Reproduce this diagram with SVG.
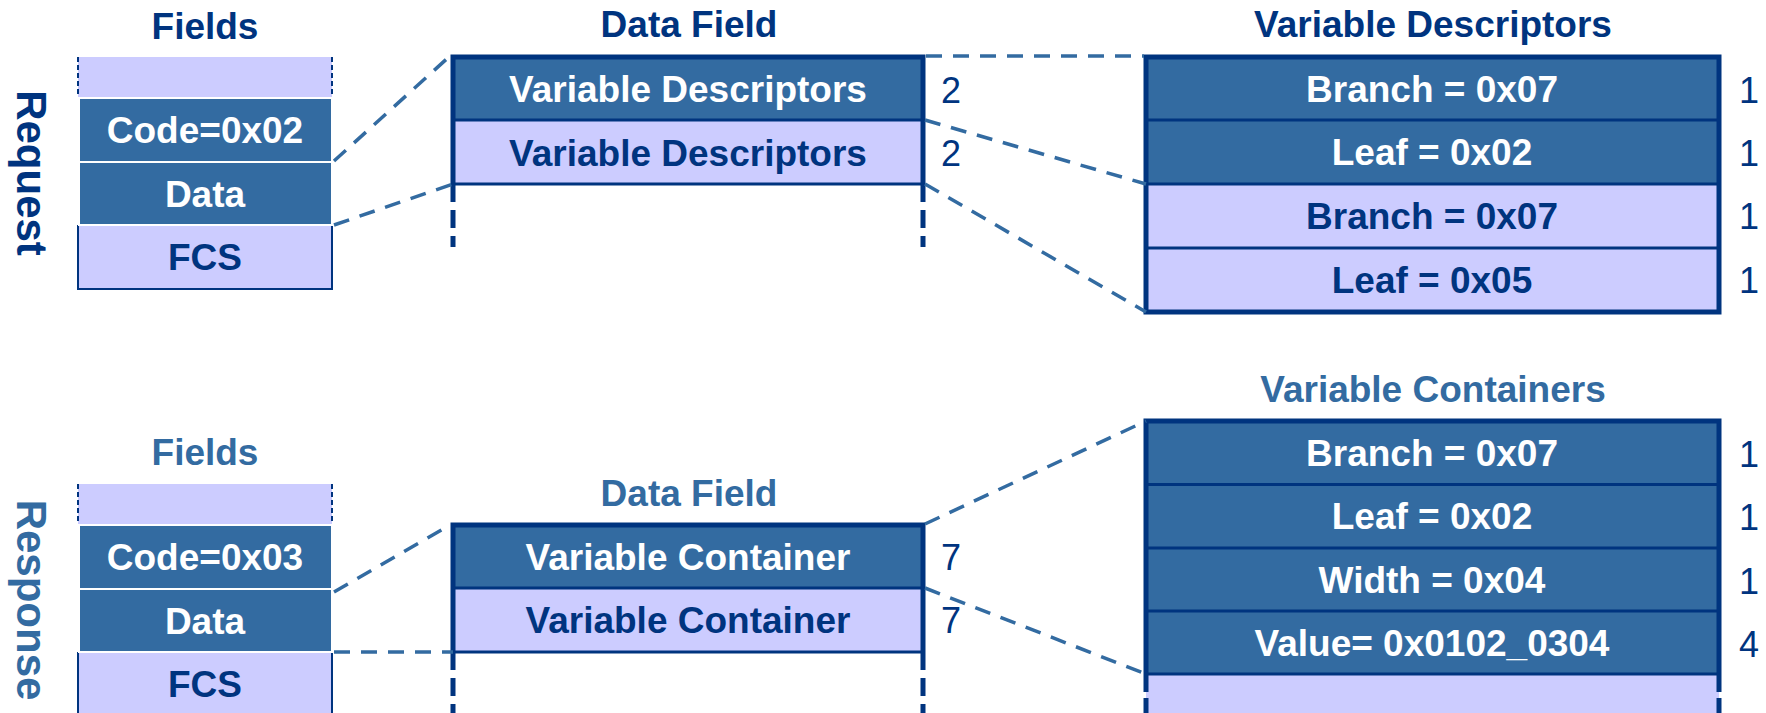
<svg xmlns="http://www.w3.org/2000/svg" width="1766" height="713" viewBox="0 0 1766 713">
  <style>
    text { font-family: "Liberation Sans", Arial, sans-serif; }
    .title { font-size: 37px; font-weight: bold; text-anchor: middle; }
    .cell { font-size: 37px; font-weight: bold; text-anchor: middle; }
    .num { font-size: 36px; fill: #00347F; }
    .vlabel { font-size: 42px; font-weight: bold; text-anchor: middle; }
    .navy { fill: #00347F; }
    .soft { fill: #336BA1; }
    .white { fill: #FFFFFF; }
    .dark { fill: #336BA1; }
    .light { fill: #CCCCFF; }
    .wrow { fill: #336BA1; stroke: #FFFFFF; stroke-width: 2; }
    .conn { fill: none; stroke: #336BA1; stroke-width: 3.5; stroke-dasharray: 16 11; }
    .frame { fill: none; stroke: #00347F; stroke-width: 5; }
    .edge { fill: none; stroke: #00347F; stroke-width: 2; }
    .sep { stroke: #00347F; stroke-width: 3; }
    .tail { stroke: #00347F; stroke-width: 5; stroke-dasharray: 18 8; }
    .tick { stroke: #00347F; stroke-width: 2; stroke-dasharray: 5 3; }
  </style>

  <!-- side labels -->
  <text class="vlabel navy" x="17" y="173" transform="rotate(90 17 173)">Request</text>
  <text class="vlabel soft" x="17" y="600" transform="rotate(90 17 600)">Response</text>

  <!-- request: frame fields -->
  <g id="req-fields">
    <text class="title navy" x="205" y="39">Fields</text>
    <rect class="light" x="78" y="57" width="254" height="41"/>
    <line class="tick" x1="78" y1="57" x2="78" y2="97"/>
    <line class="tick" x1="332" y1="57" x2="332" y2="97"/>
    <rect class="light" x="78" y="225" width="254" height="64"/>
    <path class="edge" d="M78 225 V289 H332 V225"/>
    <rect class="wrow" x="79" y="98" width="253" height="64"/>
    <rect class="wrow" x="79" y="162" width="253" height="63"/>
    <text class="cell white" x="205" y="143">Code=0x02</text>
    <text class="cell white" x="205" y="207">Data</text>
    <text class="cell navy" x="205" y="270">FCS</text>
  </g>

  <!-- request: data field -->
  <g id="req-datafield">
    <text class="title navy" x="689" y="37">Data Field</text>
    <rect class="dark" x="453" y="57" width="470" height="63"/>
    <rect class="light" x="453" y="120" width="470" height="64"/>
    <line class="sep" x1="453" y1="120" x2="923" y2="120"/>
    <line class="sep" x1="451" y1="184" x2="925" y2="184"/>
    <path class="frame" d="M453 184 V57 H923 V184"/>
    <line class="tail" x1="453" y1="184" x2="453" y2="247"/>
    <line class="tail" x1="923" y1="184" x2="923" y2="247"/>
    <text class="cell white" x="688" y="102">Variable Descriptors</text>
    <text class="cell navy" x="688" y="166">Variable Descriptors</text>
    <text class="num" x="941" y="103">2</text>
    <text class="num" x="941" y="166">2</text>
  </g>

  <!-- request: variable descriptors -->
  <g id="req-descriptors">
    <text class="title navy" x="1433" y="37">Variable Descriptors</text>
    <rect class="dark" x="1146" y="57" width="573" height="127"/>
    <rect class="light" x="1146" y="184" width="573" height="128"/>
    <line class="sep" x1="1146" y1="120" x2="1719" y2="120"/>
    <line class="sep" x1="1146" y1="184" x2="1719" y2="184"/>
    <line class="sep" x1="1146" y1="248" x2="1719" y2="248"/>
    <rect class="frame" x="1146" y="57" width="573" height="255"/>
    <text class="cell white" x="1432" y="102">Branch = 0x07</text>
    <text class="cell white" x="1432" y="165">Leaf = 0x02</text>
    <text class="cell navy" x="1432" y="229">Branch = 0x07</text>
    <text class="cell navy" x="1432" y="293">Leaf = 0x05</text>
    <text class="num" x="1739" y="103">1</text>
    <text class="num" x="1739" y="166">1</text>
    <text class="num" x="1739" y="229">1</text>
    <text class="num" x="1739" y="293">1</text>
  </g>

  <!-- response: frame fields -->
  <g id="resp-fields">
    <text class="title soft" x="205" y="465">Fields</text>
    <rect class="light" x="78" y="484" width="254" height="41"/>
    <line class="tick" x1="78" y1="484" x2="78" y2="524"/>
    <line class="tick" x1="332" y1="484" x2="332" y2="524"/>
    <rect class="light" x="78" y="652" width="254" height="64"/>
    <path class="edge" d="M78 652 V716 M332 716 V652"/>
    <rect class="wrow" x="79" y="525" width="253" height="64"/>
    <rect class="wrow" x="79" y="589" width="253" height="63"/>
    <text class="cell white" x="205" y="570">Code=0x03</text>
    <text class="cell white" x="205" y="634">Data</text>
    <text class="cell navy" x="205" y="697">FCS</text>
  </g>

  <!-- response: data field -->
  <g id="resp-datafield">
    <text class="title soft" x="689" y="506">Data Field</text>
    <rect class="dark" x="453" y="525" width="470" height="63"/>
    <rect class="light" x="453" y="588" width="470" height="64"/>
    <line class="sep" x1="453" y1="588" x2="923" y2="588"/>
    <line class="sep" x1="451" y1="652" x2="925" y2="652"/>
    <path class="frame" d="M453 652 V525 H923 V652"/>
    <line class="tail" x1="453" y1="652" x2="453" y2="713"/>
    <line class="tail" x1="923" y1="652" x2="923" y2="713"/>
    <text class="cell white" x="688" y="570">Variable Container</text>
    <text class="cell navy" x="688" y="633">Variable Container</text>
    <text class="num" x="941" y="570">7</text>
    <text class="num" x="941" y="633">7</text>
  </g>

  <!-- response: variable containers -->
  <g id="resp-containers">
    <text class="title soft" x="1433" y="402">Variable Containers</text>
    <rect class="dark" x="1146" y="421" width="573" height="253"/>
    <rect class="light" x="1146" y="674" width="573" height="41"/>
    <line class="sep" x1="1146" y1="484.5" x2="1719" y2="484.5"/>
    <line class="sep" x1="1146" y1="548" x2="1719" y2="548"/>
    <line class="sep" x1="1146" y1="611" x2="1719" y2="611"/>
    <line class="sep" x1="1146" y1="674" x2="1719" y2="674"/>
    <path class="frame" d="M1146 692 V421 H1719 V692"/>
    <line class="tail" x1="1146" y1="698" x2="1146" y2="713"/>
    <line class="tail" x1="1719" y1="698" x2="1719" y2="713"/>
    <text class="cell white" x="1432" y="466">Branch = 0x07</text>
    <text class="cell white" x="1432" y="529">Leaf = 0x02</text>
    <text class="cell white" x="1432" y="593">Width = 0x04</text>
    <text class="cell white" x="1432" y="656">Value= 0x0102_0304</text>
    <text class="num" x="1739" y="467">1</text>
    <text class="num" x="1739" y="530">1</text>
    <text class="num" x="1739" y="594">1</text>
    <text class="num" x="1739" y="657">4</text>
  </g>

  <!-- zoom-out guide lines -->
  <g id="connectors">
    <line class="conn" x1="334" y1="161" x2="450" y2="56"/>
    <line class="conn" x1="334" y1="225" x2="453" y2="184"/>
    <line class="conn" x1="926" y1="56" x2="1144" y2="56"/>
    <line class="conn" x1="925" y1="120" x2="1146" y2="184"/>
    <line class="conn" x1="925" y1="184" x2="1146" y2="312"/>
    <line class="conn" x1="334" y1="592" x2="450" y2="525"/>
    <line class="conn" x1="334" y1="652" x2="453" y2="652"/>
    <line class="conn" x1="925" y1="524" x2="1146" y2="421"/>
    <line class="conn" x1="925" y1="588" x2="1146" y2="674"/>
  </g>
</svg>
